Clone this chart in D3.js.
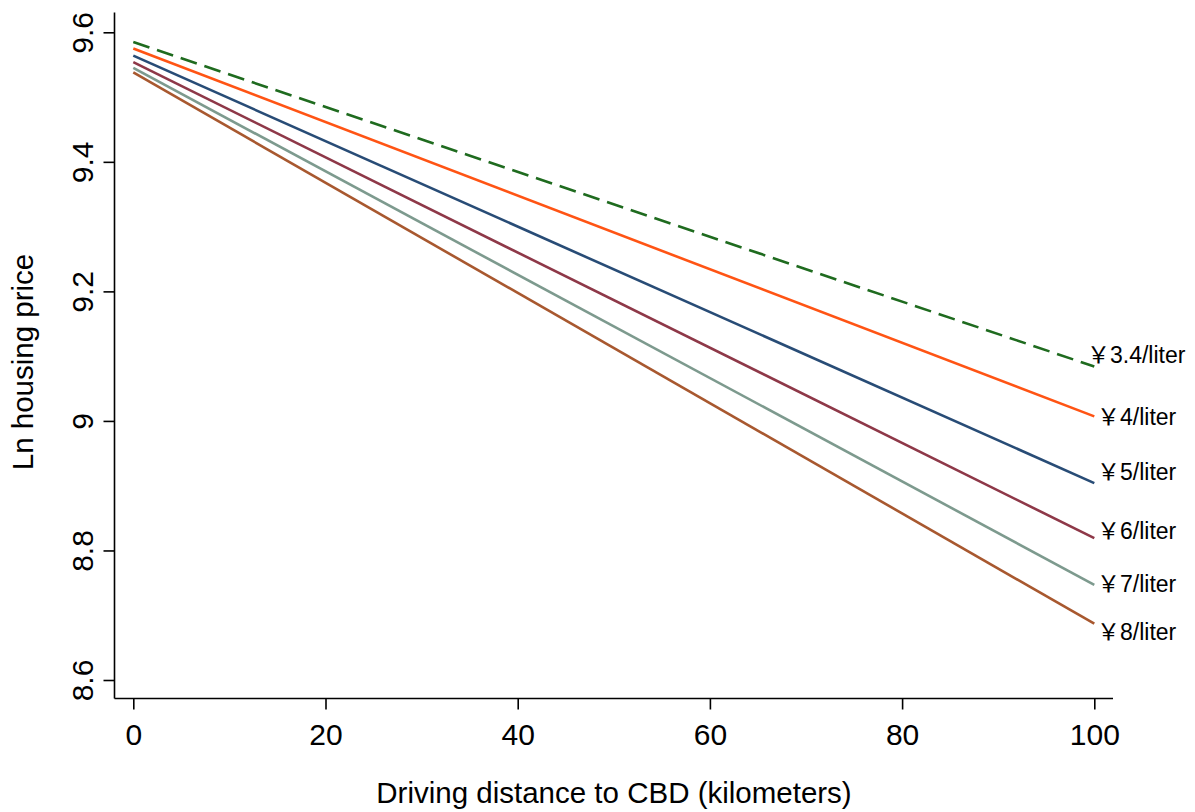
<!DOCTYPE html>
<html><head><meta charset="utf-8">
<script src="https://cdn.jsdelivr.net/npm/d3@7"></script>
<style>
html,body{margin:0;padding:0;background:#fff;}
text{font-family:"Liberation Sans",Arial,"Noto Sans CJK SC",sans-serif;fill:#000;}
</style></head>
<body>
<svg id="c" width="1195" height="812"></svg>
<script>
const distances = [0, 100];
const seriesNames = ["￥3.4/liter","￥4/liter","￥5/liter","￥6/liter","￥7/liter","￥8/liter"];
const startValues = [9.585, 9.575, 9.564, 9.554, 9.545, 9.538];
const endValues   = [9.084, 9.007, 8.904, 8.819, 8.747, 8.687];
const labelValues = [9.102, 9.006, 8.921, 8.831, 8.748, 8.674];
const colors = ["#1f6b1f","#ff5414","#284c76","#8e3848","#7d9a8e","#a8582f"];
const dashed = [true,false,false,false,false,false];
const xTicks = [0,20,40,60,80,100];
const yTicks = [8.6,8.8,9.0,9.2,9.4,9.6];
const yTickLabels = ["8.6","8.8","9","9.2","9.4","9.6"];

const svg = d3.select("#c");
const x = d3.scaleLinear().domain([0,100]).range([133.3,1094.3]);
const y = d3.scaleLinear().domain([8.6,9.6]).range([680,32.3]);
const axisLeftX = 114.5, axisBottomY = 698.5;

svg.append("line").attr("x1",axisLeftX).attr("x2",axisLeftX).attr("y1",12.5).attr("y2",axisBottomY)
  .attr("stroke","#000").attr("stroke-width",1.6);
svg.append("line").attr("x1",axisLeftX).attr("x2",1113).attr("y1",axisBottomY).attr("y2",axisBottomY)
  .attr("stroke","#000").attr("stroke-width",1.6);

const ya = svg.append("g").attr("transform",`translate(${axisLeftX},0)`)
  .call(d3.axisLeft(y).tickValues(yTicks).tickSize(11).tickPadding(8).tickFormat((d,i)=>yTickLabels[i]));
ya.select(".domain").remove();
ya.selectAll(".tick line").attr("stroke","#000").attr("stroke-width",1.6);
ya.selectAll(".tick text").attr("font-size",30).attr("x",0).attr("y",0).attr("dy",0)
  .attr("text-anchor","middle")
  .attr("transform","translate(-22,0) rotate(-90)");

const xa = svg.append("g").attr("transform",`translate(0,${axisBottomY})`)
  .call(d3.axisBottom(x).tickValues(xTicks).tickSize(11).tickPadding(10));
xa.select(".domain").remove();
xa.selectAll(".tick line").attr("stroke","#000").attr("stroke-width",1.6);
xa.selectAll(".tick text").attr("font-size",30).attr("y",46.5).attr("dy",0);

const line = d3.line().x(d=>x(d[0])).y(d=>y(d[1]));
seriesNames.forEach((n,i)=>{
  const pts = [[distances[0],startValues[i]],[distances[1],endValues[i]]];
  svg.append("path").attr("d",line(pts)).attr("fill","none")
    .attr("stroke",colors[i]).attr("stroke-width",2.6)
    .attr("stroke-dasharray",dashed[i]?"17,8":null);
  svg.append("text").attr("x", i===0 ? 1087 : 1097).attr("y",y(labelValues[i]))
    .attr("dy","0.36em").attr("font-size",23).text(n);
});

svg.append("text").attr("x",614).attr("y",803).attr("text-anchor","middle")
  .attr("font-size",29.5).text("Driving distance to CBD (kilometers)");
svg.append("text").attr("transform","translate(33,362) rotate(-90)").attr("text-anchor","middle")
  .attr("font-size",29.5).text("Ln housing price");
</script>
</body></html>
